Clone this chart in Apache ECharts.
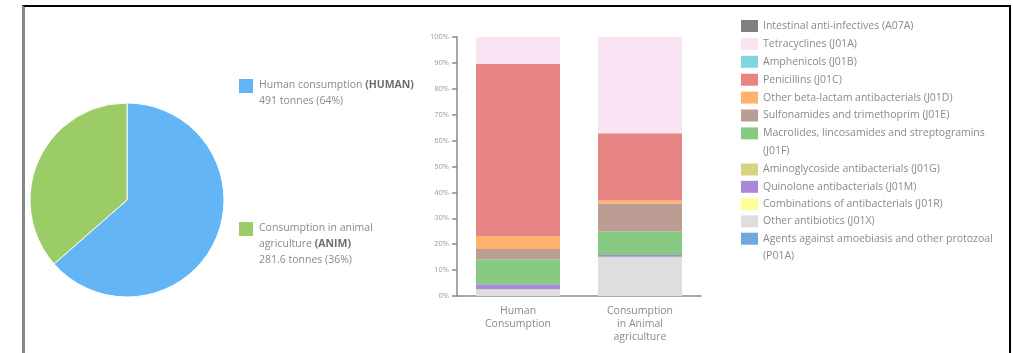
<!DOCTYPE html>
<html>
<head>
<meta charset="utf-8">
<title>Antibiotic consumption</title>
<script src="https://cdn.jsdelivr.net/npm/echarts@6/dist/echarts.min.js"></script>
<style>
  html, body { margin: 0; padding: 0; background: #fff; }
  #chart { position: absolute; left: 0; top: 0; width: 1013px; height: 353px; }
  #frame {
    position: absolute; left: 22px; top: 5px; width: 989px; height: 380px;
    box-sizing: border-box; pointer-events: none;
    border-top: 2px solid #000; border-left: 3px solid #858585; border-right: 2px solid #000;
  }
</style>
</head>
<body>
<div id="chart"></div>
<div id="frame"></div>
<script>
// Total consumption by sector (tonnes)
const sectorCodes = ['HUMAN', 'ANIM'];
const sectorTonnes = [491, 281.6];
const sectorColors = ['#64b5f6', '#9ccc65'];

// Share of each antibiotic class within each sector (%)
const barCategories = ['Human\nConsumption', 'Consumption\nin Animal\nagriculture'];
const classCodes = ['A07A', 'J01A', 'J01B', 'J01C', 'J01D', 'J01E', 'J01F', 'J01G', 'J01M', 'J01R', 'J01X', 'P01A'];
const classNames = [
  'Intestinal anti-infectives (A07A)',
  'Tetracyclines (J01A)',
  'Amphenicols (J01B)',
  'Penicillins (J01C)',
  'Other beta-lactam antibacterials (J01D)',
  'Sulfonamides and trimethoprim (J01E)',
  'Macrolides, lincosamides and streptogramins\n(J01F)',
  'Aminoglycoside antibacterials (J01G)',
  'Quinolone antibacterials (J01M)',
  'Combinations of antibacterials (J01R)',
  'Other antibiotics (J01X)',
  'Agents against amoebiasis and other protozoal\n(P01A)'
];
const humanShare  = [0, 10.3, 0, 66.5, 5.1, 3.9, 9.7, 0, 1.9, 0, 2.6, 0];
const animalShare = [0, 37.2, 0, 25.9, 1.3, 10.6, 9.2, 0, 0.6, 0, 15.2, 0];
const classColors = ['#808080', '#f9e4f3', '#7fd6df', '#e88383', '#ffb26e', '#bb9d93',
                     '#88c984', '#d6d47f', '#ab88d6', '#ffff99', '#dedede', '#6fa8dc'];
const yTicks = [0, 10, 20, 30, 40, 50, 60, 70, 80, 90, 100];

const FONT = '"Open Sans", "Noto Sans", sans-serif';
const TEXT = '#8a8a8a';

const total = sectorTonnes.reduce((a, b) => a + b, 0);
const pct = v => Math.round(v / total * 100);
const sectorText = {
  HUMAN: '{t|Human consumption }{b|(HUMAN)}\n{t|' + sectorTonnes[0] + ' tonnes (' + pct(sectorTonnes[0]) + '%)}',
  ANIM: '{t|Consumption in animal}\n{t|agriculture }{b|(ANIM)}\n{t|' + sectorTonnes[1] + ' tonnes (' + pct(sectorTonnes[1]) + '%)}'
};
const SL = 16; // sector legend line height
const richSector = {
  t: { fontFamily: FONT, fontSize: 10.5, color: TEXT, lineHeight: SL },
  b: { fontFamily: FONT, fontSize: 10.5, color: '#6e6e6e', fontWeight: 'bold', lineHeight: SL }
};

// Multi-line legend text: negative bottom padding keeps the first line level with the swatch
function sectorLegend(code, top, bottomPad) {
  return {
    orient: 'vertical', left: 237, top: top, padding: 0,
    itemWidth: 16, itemHeight: 16, itemGap: 0,
    icon: 'rect', selectedMode: false,
    data: [{ name: code, textStyle: { padding: [0, 0, bottomPad, 0] } }],
    formatter: n => sectorText[n],
    textStyle: { rich: richSector, fontFamily: FONT, color: TEXT }
  };
}

const CL = 17.6; // class legend line height
function classLegend(fromIdx, toIdx, top, gap) {
  const items = [];
  for (let i = fromIdx; i <= toIdx; i++) {
    const lines = classNames[i].split('\n').length;
    items.push({ name: classCodes[i], textStyle: { padding: [0, 0, -CL * (lines - 1), 0] } });
  }
  return {
    orient: 'vertical', left: 741, top: top, padding: 0,
    itemWidth: 17, itemHeight: 12, itemGap: gap,
    icon: 'rect', selectedMode: false,
    data: items,
    formatter: n => classNames[classCodes.indexOf(n)].split('\n').map(s => '{t|' + s + '}').join('\n'),
    textStyle: {
      fontFamily: FONT, color: TEXT,
      rich: { t: { fontFamily: FONT, fontSize: 10.5, color: TEXT, lineHeight: CL } }
    }
  };
}

// Stack from the bottom of the bar upward (reverse of legend order)
const barSeries = [];
for (let i = classCodes.length - 1; i >= 0; i--) {
  barSeries.push({
    name: classCodes[i],
    type: 'bar',
    stack: 'share',
    barWidth: 84,
    itemStyle: { color: classColors[i] },
    emphasis: { disabled: true },
    data: [humanShare[i], animalShare[i]]
  });
}

const chart = echarts.init(document.getElementById('chart'), null, { renderer: 'canvas' });
chart.setOption({
  animation: false,
  backgroundColor: '#fff',
  legend: [
    sectorLegend('HUMAN', 77, -15),
    sectorLegend('ANIM', 220, -31),
    classLegend(0, 6, 20, 5.9),
    classLegend(7, 11, 163.5, 5.3)
  ],
  grid: { left: 457, width: 244, top: 37, bottom: 57, containLabel: false },
  xAxis: {
    type: 'category',
    data: barCategories,
    axisLine: { lineStyle: { color: '#8a8a8a', width: 1.5 } },
    axisTick: { alignWithLabel: true, length: 4, lineStyle: { color: '#8a8a8a', width: 1.5 } },
    axisLabel: { color: TEXT, fontFamily: FONT, fontSize: 10.5, lineHeight: 13, margin: 9, interval: 0 }
  },
  yAxis: {
    type: 'value',
    min: yTicks[0], max: yTicks[yTicks.length - 1], interval: yTicks[1] - yTicks[0],
    axisLine: { show: true, lineStyle: { color: '#8a8a8a', width: 1.5 } },
    axisTick: { show: true, length: 5, lineStyle: { color: '#8a8a8a', width: 1.5 } },
    splitLine: { show: false },
    axisLabel: { color: '#9a9a9a', fontFamily: FONT, fontSize: 7.5, margin: 8, formatter: '{value}%' }
  },
  series: [
    {
      type: 'pie',
      center: [127, 200],
      radius: 97,
      startAngle: 90,
      clockwise: true,
      label: { show: false },
      labelLine: { show: false },
      emphasis: { disabled: true },
      itemStyle: { borderColor: '#fff', borderWidth: 1 },
      data: sectorCodes.map((c, i) => ({ name: c, value: sectorTonnes[i], itemStyle: { color: sectorColors[i] } }))
    }
  ].concat(barSeries)
});
</script>
</body>
</html>
